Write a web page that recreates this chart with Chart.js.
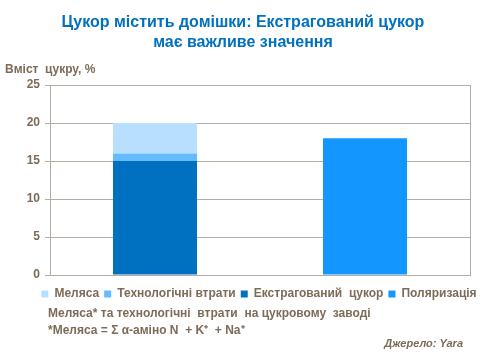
<!DOCTYPE html>
<html>
<head>
<meta charset="utf-8">
<script src="https://cdn.jsdelivr.net/npm/chart.js@4/dist/chart.umd.min.js"></script>
<style>
html,body{margin:0;padding:0;background:#fff;}
#wrap{position:relative;width:480px;height:360px;}
canvas{position:absolute;left:0;top:0;}
.t{position:absolute;font-family:"Liberation Sans",Arial,sans-serif;font-weight:bold;color:#7d6b5a;font-size:12px;white-space:nowrap;}
#title{position:absolute;left:0;width:486px;top:12px;text-align:center;font-family:"Liberation Sans",Arial,sans-serif;font-weight:bold;font-size:16px;line-height:20px;color:#0070c0;}
</style>
</head>
<body>
<div id="wrap">
<canvas id="c" width="480" height="360"></canvas>
<div id="title"></div>
<div class="t" style="left:5px;top:62px;">Вміст&nbsp; цукру,&nbsp;%</div>
<div class="t" style="left:48px;top:306px;">Меляса* та технологічні&nbsp; втрати&nbsp; на цукровому&nbsp; заводі</div>
<div class="t" style="left:48px;top:321px;">*Меляса = Σ α-аміно N&nbsp; + K⁺&nbsp; + Na⁺</div>
<div class="t" style="right:17px;top:337px;font-style:italic;font-size:11px;">Джерело: Yara</div>
</div>
<script>
const titleLines = ["Цукор містить домішки: Екстрагований цукор", "має важливе значення"];
const categories = ["A", "B"];
const extracted = [15, null];
const techLosses = [1, null];
const molasses = [4, null];
const polarization = [null, 18];
const yTicks = [0, 5, 10, 15, 20, 25];
const labelsOrder = ["Меляса", "Технологічні втрати", "Екстрагований  цукор", "Поляризація"];

document.getElementById("title").innerHTML = titleLines.join("<br>");

const txt = "#7d6b5a";
const gridC = "#b5aca2";
const fam = "'Liberation Sans', Arial, sans-serif";

const shiftLegend = {
  id: "shiftLegend",
  afterLayout(chart) {
    const lg = chart.legend;
    if (lg) { lg.left += 19; lg.right += 19; }
  }
};

new Chart(document.getElementById("c"), {
  type: "bar",
  data: {
    labels: categories,
    datasets: [
      { label: labelsOrder[2], data: extracted, backgroundColor: "#0070c0" },
      { label: labelsOrder[1], data: techLosses, backgroundColor: "#66bbff" },
      { label: labelsOrder[0], data: molasses, backgroundColor: "#b8dfff" },
      { label: labelsOrder[3], data: polarization, backgroundColor: "#1496ff" }
    ]
  },
  options: {
    responsive: false,
    animation: false,
    devicePixelRatio: 1,
    layout: { padding: { left: 0, right: 0, top: 85, bottom: 50 } },
    datasets: { bar: { categoryPercentage: 0.4, barPercentage: 1.0, skipNull: true } },
    plugins: {
      title: { display: false },
      legend: {
        position: "bottom",
        labels: {
          boxWidth: 7, boxHeight: 7, padding: 5,
          color: txt,
          font: { family: fam, size: 12, weight: "bold" },
          sort: (a, b) => labelsOrder.indexOf(a.text) - labelsOrder.indexOf(b.text)
        }
      },
      tooltip: { enabled: false }
    },
    scales: {
      x: {
        stacked: true,
        grid: { display: false },
        border: { display: false },
        ticks: { display: false }
      },
      y: {
        stacked: true,
        min: 0, max: 25,
        afterBuildTicks: (ax) => { ax.ticks = yTicks.map(v => ({ value: v })); },
        afterFit: (ax) => { ax.width = 50; },
        grid: { color: gridC, tickLength: 5, drawTicks: true },
        border: { color: gridC },
        ticks: { color: txt, padding: 5, font: { family: fam, size: 12, weight: "bold" } }
      },
      y2: {
        position: "right",
        min: 0, max: 25,
        afterFit: (ax) => { ax.width = 10; },
        grid: { display: false },
        border: { color: gridC },
        ticks: { display: false }
      }
    }
  },
  plugins: [shiftLegend]
});
</script>
</body>
</html>
